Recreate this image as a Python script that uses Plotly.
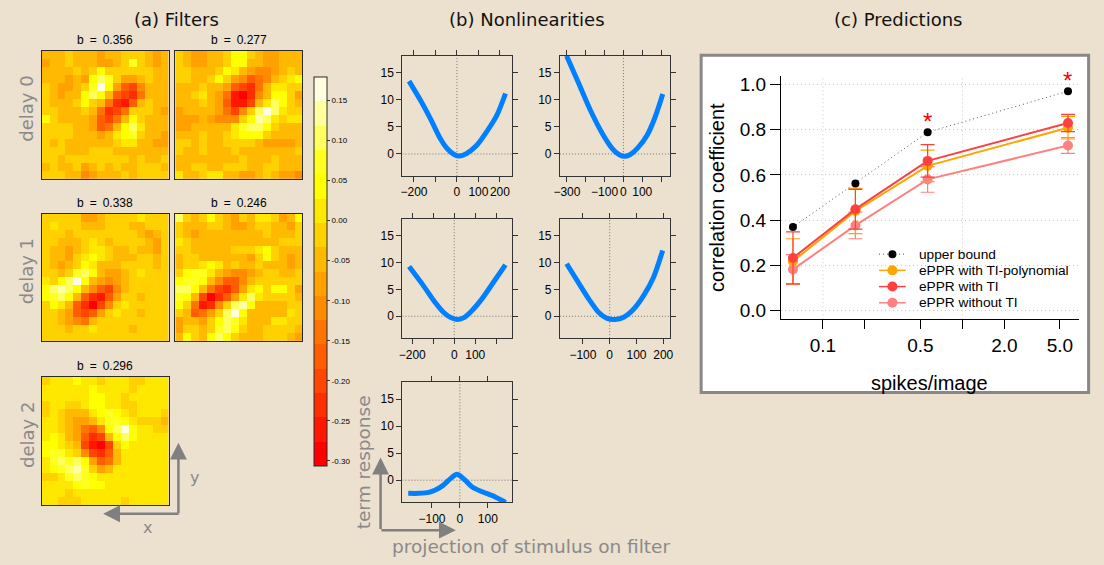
import math
import plotly.graph_objects as go

W, H = 1104, 565
BG = "#ECE0CE"
GREY_TXT = "#8a8a8a"
ARROW = "#808080"

# ---------------------------------------------------------------- filters
# 16x16 spatial filter weights, row 0 = top row of the image
filter_d0_a = [
    [-.04,-.04,-.04,-.01,-.04,-.04,-.04,-.08,-.04,-.04,-.01,-.01,-.01,-.04,-.08,-.04],
    [-.08,-.04,-.04,-.01,-.04,-.04,-.04,-.08,-.08,-.04,-.01,.08,-.01,-.04,-.08,-.04],
    [-.04,-.04,-.04,-.04,-.01,-.04,-.01,.05,-.01,-.01,-.01,-.01,-.01,-.01,-.04,-.04],
    [-.04,-.04,-.04,-.08,-.04,-.08,.05,.11,.08,-.01,-.08,-.08,-.04,-.01,-.04,-.04],
    [-.01,-.04,-.08,-.08,-.04,-.01,.08,.17,.05,-.08,-.17,-.20,-.11,-.04,-.04,-.04],
    [-.01,-.04,-.08,-.04,-.04,.05,.11,.05,-.04,-.17,-.20,-.23,-.14,-.04,-.04,-.04],
    [-.01,-.04,-.04,-.04,-.01,.05,-.01,-.04,-.14,-.23,-.26,-.17,-.04,-.01,-.04,-.04],
    [-.01,-.01,-.04,-.04,-.04,-.01,-.04,-.14,-.23,-.20,-.14,-.01,-.01,-.01,-.04,-.08],
    [.05,-.01,-.04,-.04,-.04,-.04,-.08,-.17,-.20,-.14,-.04,.05,-.01,-.04,-.04,-.04],
    [-.01,-.01,-.01,-.01,-.04,-.04,-.08,-.17,-.14,-.04,.05,.11,.02,-.04,-.04,-.04],
    [-.01,-.01,-.01,-.01,-.04,-.04,-.04,-.08,-.04,.02,.05,.08,-.01,-.04,-.04,-.08],
    [-.01,-.04,-.01,-.04,-.04,-.04,-.04,-.04,-.04,-.01,.02,.02,-.04,-.04,-.08,-.08],
    [-.01,-.01,-.01,-.04,-.04,-.04,-.01,-.01,-.01,-.04,-.04,-.04,-.04,-.04,-.04,-.04],
    [-.01,-.01,-.04,-.01,-.01,-.01,-.01,-.01,-.01,-.01,-.01,-.04,-.01,-.04,-.04,-.01],
    [-.04,-.01,-.04,-.04,-.01,-.08,-.04,-.01,-.04,-.01,-.04,-.04,-.01,-.01,-.01,-.04],
    [-.01,-.01,-.01,-.04,-.04,-.11,-.08,-.04,-.04,-.04,-.01,-.04,-.01,-.01,-.01,-.01],
]
filter_d0_b = [
    [-.01,-.04,-.08,-.08,-.04,-.04,-.01,.05,.05,-.01,-.04,-.08,-.08,-.04,-.04,-.04],
    [-.01,-.04,-.08,-.08,-.04,-.04,-.01,.05,.05,-.04,-.04,-.08,-.08,-.04,-.04,-.04],
    [-.01,-.01,-.04,-.04,-.04,-.01,.05,.02,-.04,-.08,-.11,-.11,-.08,-.04,-.01,-.04],
    [-.01,-.01,-.04,-.04,-.01,.05,-.01,-.08,-.11,-.17,-.14,-.11,-.04,-.01,.02,.05],
    [-.04,-.04,-.04,-.01,-.04,-.04,-.08,-.17,-.20,-.23,-.14,-.04,.02,.02,-.01,-.01],
    [-.04,-.04,-.01,.02,-.04,-.08,-.14,-.26,-.29,-.23,-.11,-.04,.05,.05,-.01,-.08],
    [-.04,-.04,-.04,-.01,-.04,-.08,-.17,-.26,-.26,-.20,-.04,.02,.11,.05,-.01,-.04],
    [-.08,-.04,-.04,-.04,-.04,-.08,-.14,-.20,-.11,-.01,.11,.17,.11,.02,-.01,-.01],
    [-.08,-.08,-.08,-.04,-.08,-.11,-.11,-.11,-.01,.05,.14,.11,.02,-.01,.02,.02],
    [-.08,-.08,-.04,-.04,-.04,-.04,-.04,.02,.08,.11,.11,.05,-.01,-.04,-.04,-.04],
    [-.04,-.04,-.04,-.01,-.04,-.04,-.01,.02,.05,.05,.05,-.01,-.04,-.04,-.04,-.04],
    [-.01,-.01,-.04,-.01,-.04,-.04,-.01,-.01,-.01,-.01,-.04,-.08,-.08,-.08,-.08,-.04],
    [-.01,-.04,-.04,-.01,-.04,-.04,-.04,-.01,-.04,-.04,-.04,-.04,-.04,-.04,-.04,-.01],
    [-.04,-.04,-.04,-.04,-.04,-.04,-.04,-.04,-.01,-.04,-.04,-.04,-.01,-.04,-.04,-.04],
    [-.04,-.04,-.01,-.01,-.04,-.04,-.01,-.01,-.01,-.04,-.04,-.01,-.01,-.04,-.04,-.04],
    [.02,-.04,-.04,-.01,.02,.02,-.04,-.04,-.08,-.08,-.04,-.01,-.04,-.08,-.08,-.11],
]
filter_d1_a = [
    [-.01,-.01,-.01,-.01,-.01,-.08,-.08,-.04,-.01,-.01,-.01,-.01,.02,-.01,-.01,-.01],
    [-.01,.02,-.01,-.01,-.01,-.04,-.04,-.04,-.01,-.01,-.01,-.04,-.04,-.01,-.01,-.01],
    [-.01,-.01,-.01,-.04,-.01,-.01,-.01,-.01,-.01,-.01,-.01,-.01,-.04,-.08,-.04,-.01],
    [-.01,-.01,-.04,-.04,-.04,-.01,.02,-.01,-.04,-.01,-.01,-.01,-.01,-.04,-.08,-.01],
    [-.01,-.04,-.04,-.08,-.04,-.01,.02,.02,-.01,-.04,-.04,-.01,-.04,-.04,-.08,-.01],
    [-.01,-.04,-.04,-.08,-.01,.02,.05,.02,-.01,-.04,-.04,-.04,-.01,-.01,-.04,-.01],
    [-.01,-.04,-.08,-.04,-.01,.05,.02,-.04,-.04,-.04,-.01,-.01,-.01,-.01,-.04,-.01],
    [-.01,-.01,-.04,-.01,.08,.11,.05,-.04,-.08,-.08,-.04,-.01,.02,-.01,-.01,-.01],
    [.02,-.01,.05,.11,.17,.05,-.04,-.08,-.11,-.08,-.04,-.01,-.01,-.01,-.01,-.01],
    [.05,.11,.14,.11,.05,-.04,-.11,-.17,-.20,-.11,-.04,-.01,-.01,-.01,-.01,-.01],
    [.05,.08,.11,.05,-.04,-.17,-.23,-.26,-.17,-.08,-.01,-.01,-.04,-.01,-.01,-.01],
    [-.01,.05,.02,-.04,-.17,-.23,-.29,-.20,-.11,-.01,.02,-.01,-.01,-.01,-.01,-.01],
    [-.01,-.01,-.04,-.08,-.17,-.20,-.17,-.08,-.01,.02,-.01,-.01,-.04,-.01,-.01,-.01],
    [-.01,-.01,-.04,-.08,-.11,-.14,-.04,-.01,-.01,-.01,-.01,-.01,-.01,-.01,-.01,-.01],
    [-.01,-.01,-.01,-.04,-.01,-.01,.02,-.01,-.01,-.01,-.01,-.04,-.01,-.01,-.01,-.01],
    [-.01,-.01,-.01,-.01,-.01,-.01,-.01,-.01,-.01,-.01,-.01,-.01,-.01,-.01,-.01,-.01],
]
filter_d1_b = [
    [.11,-.01,-.04,-.01,.05,-.01,-.04,-.08,-.01,-.04,.02,.02,-.01,-.08,-.04,.05],
    [-.01,-.04,-.04,-.04,-.01,-.01,-.04,-.08,-.08,-.04,-.01,-.01,-.04,-.04,-.08,-.01],
    [-.01,-.04,-.08,-.04,-.04,-.04,-.04,-.04,-.04,-.04,-.04,-.01,-.04,-.04,-.04,-.01],
    [.02,-.01,-.04,-.04,-.04,-.04,-.04,-.04,-.04,-.04,-.04,-.04,-.04,-.01,-.01,-.01],
    [-.01,-.01,-.04,-.04,-.04,-.04,-.04,-.01,-.01,-.01,.02,.05,-.01,-.04,-.04,-.04],
    [-.04,-.01,-.01,-.04,-.04,-.04,-.04,-.04,-.04,-.08,-.01,.05,-.01,-.04,-.08,-.04],
    [-.04,-.01,-.01,.02,.05,.02,-.04,-.01,-.04,-.04,-.01,-.04,-.04,-.04,-.08,-.04],
    [-.01,.05,.08,.08,.02,-.04,-.08,-.11,-.11,-.08,-.04,-.01,-.01,-.04,-.04,-.01],
    [.05,.08,.08,.05,-.04,-.11,-.17,-.17,-.11,-.04,-.01,-.01,-.01,-.01,-.01,-.01],
    [.11,.11,.05,-.04,-.14,-.20,-.23,-.17,-.08,.02,.05,-.01,.05,.05,-.01,-.08],
    [.08,.05,-.04,-.20,-.29,-.23,-.17,-.08,.02,.11,.02,-.01,-.01,-.01,-.01,-.04],
    [.05,-.01,-.14,-.26,-.23,-.11,-.01,.11,.14,.05,-.04,-.04,-.04,-.04,-.01,-.01],
    [-.01,-.04,-.17,-.14,-.08,-.01,.11,.17,.05,-.04,-.04,-.04,-.04,-.04,.02,-.01],
    [-.08,-.04,-.04,-.08,-.01,.05,.11,.08,.02,-.04,-.04,-.04,.02,.02,-.01,-.01],
    [-.08,-.01,-.01,-.04,-.01,.08,.11,.05,-.01,-.04,-.04,-.01,-.01,-.01,-.01,-.04],
    [-.04,.05,-.01,-.04,.05,.11,.05,-.01,-.04,-.04,-.04,-.01,-.01,-.01,-.04,-.08],
]
filter_d2_a = [
    [-.01,.02,.02,.02,.05,.02,.02,-.01,.02,.02,.02,-.01,-.01,.02,.02,.02],
    [.02,.02,.02,.02,.02,.02,.05,.02,.02,.02,.02,-.01,.02,.02,.02,.02],
    [.02,.02,.02,.02,.02,.02,.05,.05,.02,.02,-.01,.02,.02,.02,.02,.02],
    [-.01,.02,.02,-.01,-.01,.02,.05,.05,.02,.02,-.01,-.01,.02,.02,.02,.02],
    [-.01,.02,-.01,-.04,-.04,-.04,.02,.05,.08,.05,.02,-.01,.02,.02,.02,-.01],
    [.02,.02,-.01,-.04,-.08,-.08,-.04,.02,.08,.08,.05,.02,-.01,-.01,-.01,-.04],
    [.02,.02,-.01,-.04,-.08,-.14,-.17,-.11,.05,.11,.17,.05,.02,.02,-.01,-.01],
    [.02,.05,.02,-.04,-.08,-.17,-.23,-.20,-.04,.05,.11,.05,.02,.02,.02,.02],
    [.05,.05,.02,-.01,-.04,-.20,-.26,-.29,-.20,-.01,.05,.02,.02,.02,.02,.02],
    [.05,.08,.08,.02,-.01,-.11,-.20,-.23,-.17,-.04,.02,.02,.02,.02,.02,.02],
    [.02,.08,.11,.08,.11,.05,-.08,-.17,-.14,-.04,.02,.02,.02,.02,.02,.02],
    [.02,.05,.08,.11,.14,.08,-.01,-.08,-.04,.02,.02,.02,.02,.02,.02,.02],
    [-.01,-.01,.02,.08,.11,.08,.05,.02,.02,.02,.02,.02,.02,.02,.02,.02],
    [.02,.02,.02,.02,.05,.08,.05,.05,.02,.02,.02,.02,.02,.02,.02,.02],
    [.02,.02,.02,-.01,.02,.02,.02,.02,.02,.02,.02,.02,.02,.02,.02,.02],
    [.02,.02,-.01,-.01,-.01,.02,.02,.02,.02,.02,-.01,.02,.02,.02,.02,.02],
]
filter_b = [0.356, 0.277, 0.338, 0.246, 0.296]
delay_labels = ["delay 0", "delay 1", "delay 2"]

# colour key: 16 heat colours between the weight limits
heat_colors = ["#FF0000", "#FF1700", "#FF2E00", "#FF4600", "#FF5D00", "#FF7400",
               "#FF8B00", "#FFA200", "#FFB900", "#FFD100", "#FFE800", "#FFFF00",
               "#FFFF20", "#FFFF60", "#FFFF9F", "#FFFFDF"]
weight_min, weight_max = -0.306, 0.180
key_ticks = [0.15, 0.10, 0.05, 0.00, -0.05, -0.10, -0.15, -0.20, -0.25, -0.30]

# ---------------------------------------------------------------- nonlinearities
nl1_x = [-223, -169, -123, -77, -46, -15, 11, 46, 92, 138, 185, 226]
nl1_y = [13.5, 9.9, 6.5, 2.8, 1.0, -0.05, -0.4, 0.1, 1.6, 4.1, 7.1, 11.2]
nl2_x = [-302, -244, -174, -112, -59, -25, 2, 37, 81, 125, 168, 209]
nl2_y = [18.2, 13.6, 8.0, 3.8, 1.0, -0.1, -0.45, -0.1, 1.3, 3.4, 6.8, 11.1]
nl3_x = [-215, -152, -97, -50, -14, 13, 44, 83, 131, 186, 244]
nl3_y = [9.3, 6.0, 2.9, 0.7, -0.3, -0.6, -0.3, 1.0, 3.2, 6.3, 9.6]
nl4_x = [-161, -121, -78, -41, -10, 21, 52, 89, 126, 163, 198]
nl4_y = [9.8, 6.6, 3.2, 0.7, -0.4, -0.6, -0.2, 1.3, 3.8, 7.2, 12.3]
nl5_x = [-185, -146, -111, -88, -64, -40, -22, -11, 1, 19, 43, 78, 125, 164]
nl5_y = [-2.44, -2.44, -2.26, -1.83, -1.1, 0.0, 0.8, 1.1, 0.8, 0.0, -1.2, -2.1, -3.05, -4.1]
nl_xranges = [[-254, 258], [-337, 247], [-247, 277], [-186, 225], [-206, 188]]
nl_xticks = [[-200, -100, 0, 100, 200], [-300, -200, -100, 0, 100, 200],
             [-200, -100, 0, 100, 200], [-100, 0, 100, 200], [-100, 0, 100]]
nl_xticktext = [["\u2212200", "", "0", "100", "200"],
                ["\u2212300", "", "\u2212100", "0", "100", ""],
                ["\u2212200", "", "0", "100", ""],
                ["\u2212100", "0", "100", "200"],
                ["\u2212100", "0", "100"]]
nl_yrange = [-4.1, 18.2]
nl_yticks = [0, 5, 10, 15]

# ---------------------------------------------------------------- predictions
spikes_per_image = [0.061, 0.171, 0.563, 5.71]
upper_bound = [0.369, 0.562, 0.789, 0.971]
eppr_ti_poly = [0.217, 0.440, 0.640, 0.809]
eppr_ti = [0.232, 0.448, 0.662, 0.830]
eppr_no_ti = [0.181, 0.376, 0.580, 0.730]
err_ti_poly = [0.100, 0.100, 0.070, 0.050]
err_ti = [0.115, 0.088, 0.072, 0.038]
err_no_ti = [0.066, 0.059, 0.057, 0.035]
significant = [2, 3]  # indices marked with a star

# ---------------------------------------------------------------- helpers
def dom_x(a, b):
    return [a / W, b / W]


def dom_y(top, bottom):
    return [1 - bottom / H, 1 - top / H]


def px(x):
    return x / W


def py(y):
    return 1 - y / H


def sfx(i):
    return "" if i == 1 else str(i)


def label(x, y, text, size, color="black", family=None, angle=0, xanchor="center"):
    font = dict(size=size, color=color)
    if family:
        font["family"] = family
    return dict(x=px(x), y=py(y), xref="paper", yref="paper", text=text, showarrow=False,
                textangle=angle, xanchor=xanchor, yanchor="middle", font=font)


def arrow(x_head, y_head, dx_tail, dy_tail):
    return dict(x=px(x_head), y=py(y_head), xref="paper", yref="paper",
                ax=dx_tail, ay=dy_tail, text="", showarrow=True, arrowhead=2,
                arrowsize=1.35, arrowwidth=2.5, arrowcolor=ARROW)


fig = go.Figure()
layout = {}
shapes = []
annotations = []

# ---------------------------------------------------------------- (a) filter maps
filters = [filter_d0_a, filter_d0_b, filter_d1_a, filter_d1_b, filter_d2_a]
filter_boxes = [(36, 164, 50, 179), (171, 299, 50, 179),
                (36, 164, 214, 342), (171, 299, 214, 342),
                (36, 164, 378, 507)]
for k, (z, box) in enumerate(zip(filters, filter_boxes), start=1):
    s = sfx(k)
    fig.add_trace(go.Heatmap(z=z, coloraxis="coloraxis", xaxis="x" + s, yaxis="y" + s,
                             hoverinfo="skip", showlegend=False))
    frame = dict(showticklabels=False, ticks="", showgrid=False, zeroline=False,
                 showline=True, mirror=True, linecolor="#2a2a2a", linewidth=1)
    layout["xaxis" + s] = dict(domain=dom_x(box[0], box[1]), anchor="y" + s,
                               range=[-0.5, 15.5], **frame)
    layout["yaxis" + s] = dict(domain=dom_y(box[2], box[3]), anchor="x" + s,
                               range=[15.5, -0.5], **frame)
    annotations.append(label((box[0] + box[1]) / 2, box[2] - 11,
                             f"b\u2002=\u2002{filter_b[k - 1]:.3f}", 12))

for row, text in enumerate(delay_labels):
    top, bottom = filter_boxes[row * 2][2], filter_boxes[row * 2][3]
    annotations.append(label(21, (top + bottom) / 2 - 6, text, 18, GREY_TXT,
                             "DejaVu Sans", angle=-90))

stepped = []
n_col = len(heat_colors)
for i, c in enumerate(heat_colors):
    stepped.append([i / n_col, c])
    stepped.append([(i + 1) / n_col, c])

layout["coloraxis"] = dict(
    cmin=weight_min, cmax=weight_max, colorscale=stepped,
    colorbar=dict(x=px(311), xanchor="left", y=py(76), yanchor="top",
                  len=391 / H, lenmode="fraction", thickness=13, thicknessmode="pixels",
                  xpad=0, ypad=0, outlinewidth=1, outlinecolor="#2a2a2a",
                  tickvals=key_ticks, ticktext=[f"{t:.2f}" for t in key_ticks],
                  ticks="outside", ticklen=3, tickcolor="#333",
                  tickfont=dict(size=8, color="black"), bgcolor="rgba(0,0,0,0)"))

# spatial orientation arrows
annotations.append(arrow(174, 444, 0, 72))
annotations.append(arrow(98, 515.5, 77, 0))
annotations.append(label(143, 529, "x", 16, GREY_TXT, "DejaVu Sans"))
annotations.append(label(190, 479, "y", 16, GREY_TXT, "DejaVu Sans"))

# ---------------------------------------------------------------- (b) nonlinearities
nl_x = [nl1_x, nl2_x, nl3_x, nl4_x, nl5_x]
nl_y = [nl1_y, nl2_y, nl3_y, nl4_y, nl5_y]
nl_boxes = [(400, 511, 55, 176), (559, 670, 55, 176),
            (400, 511, 219, 339), (559, 670, 219, 339),
            (400, 511, 383, 504)]
for j in range(5):
    k = 6 + j
    s = sfx(k)
    box = nl_boxes[j]
    xr = nl_xranges[j]
    fig.add_trace(go.Scatter(x=nl_x[j], y=nl_y[j], mode="lines", xaxis="x" + s, yaxis="y" + s,
                             line=dict(color="#0080FF", width=5, shape="spline", smoothing=0.8),
                             hoverinfo="skip", showlegend=False))
    common = dict(showgrid=False, zeroline=False, showline=True, mirror="ticks",
                  linecolor="#333", linewidth=1, ticks="outside", ticklen=5,
                  tickcolor="#333", tickfont=dict(size=12, color="black"), tickangle=0)
    layout["xaxis" + s] = dict(domain=dom_x(box[0], box[1]), anchor="y" + s, range=xr,
                               tickvals=nl_xticks[j], ticktext=nl_xticktext[j], **common)
    layout["yaxis" + s] = dict(domain=dom_y(box[2], box[3]), anchor="x" + s, range=nl_yrange,
                               tickvals=nl_yticks, ticktext=[str(v) for v in nl_yticks], **common)
    ref = dict(color="#777", width=1, dash="1px,2px")
    shapes.append(dict(type="line", xref="x" + s, yref="y" + s, x0=0, x1=0,
                       y0=nl_yrange[0], y1=nl_yrange[1], layer="below", line=ref))
    shapes.append(dict(type="line", xref="x" + s, yref="y" + s, x0=xr[0], x1=xr[1],
                       y0=0, y1=0, layer="below", line=ref))

annotations.append(arrow(378, 459, 0, 73))
annotations.append(arrow(454, 532, -76, 0))
annotations.append(label(361, 464, "term response", 18.5, GREY_TXT, "DejaVu Sans", angle=-90))
annotations.append(label(530, 548, "projection of stimulus on filter", 18.5, GREY_TXT,
                         "DejaVu Sans"))

# ---------------------------------------------------------------- (c) predictions
shapes.append(dict(type="rect", xref="paper", yref="paper", x0=px(701.5), x1=px(1092.5),
                   y0=py(393.5), y1=py(54.5), fillcolor="white", layer="below",
                   line=dict(color="#888888", width=3)))

s = "11"
series = [
    ("ePPR without TI", eppr_no_ti, err_no_ti, "#FF8080"),
    ("ePPR with TI-polynomial", eppr_ti_poly, err_ti_poly, "#FFA500"),
    ("ePPR with TI", eppr_ti, err_ti, "#FF4040"),
]
for name, vals, errs, col in series:
    fig.add_trace(go.Scatter(
        x=spikes_per_image, y=vals, name=name, mode="lines+markers",
        xaxis="x" + s, yaxis="y" + s, showlegend=False,
        line=dict(color=col, width=2), marker=dict(color=col, size=10),
        error_y=dict(type="data", array=errs, color=col, thickness=1.2, width=7)))
fig.add_trace(go.Scatter(
    x=spikes_per_image, y=upper_bound, name="upper bound", mode="lines+markers",
    xaxis="x" + s, yaxis="y" + s, showlegend=False,
    line=dict(color="#555555", width=1, dash="1px,3px"), marker=dict(color="black", size=8)))

for i in significant:
    annotations.append(dict(x=math.log10(spikes_per_image[i]), y=upper_bound[i],
                            xref="x" + s, yref="y" + s, text="*", showarrow=False,
                            xanchor="center", yanchor="middle", yshift=11,
                            font=dict(size=24, color="#FF0000")))

layout["xaxis" + s] = dict(domain=dom_x(782, 1083), anchor="y" + s, type="log",
                           range=[math.log10(0.05), math.log10(6.87)],
                           tickvals=[0.1, 0.2, 0.5, 1, 2, 5],
                           ticktext=["0.1", "", "0.5", "", "2.0", "5.0"],
                           ticks="outside", ticklen=9, tickcolor="black",
                           showline=True, linecolor="black", linewidth=1,
                           showgrid=False, zeroline=False,
                           tickfont=dict(size=19, color="black"))
layout["yaxis" + s] = dict(domain=dom_y(75, 320), anchor="x" + s, range=[-0.04, 1.04],
                           tickvals=[0, 0.2, 0.4, 0.6, 0.8, 1.0],
                           ticktext=["0.0", "0.2", "0.4", "0.6", "0.8", "1.0"],
                           ticks="outside", ticklen=10, tickcolor="black",
                           showline=True, linecolor="black", linewidth=1,
                           showgrid=True, gridcolor="#c8c8c8", griddash="1px,3px", gridwidth=1,
                           zeroline=False, tickfont=dict(size=19, color="black"))
for gx in [0.1, 1.0]:
    shapes.append(dict(type="line", xref="x" + s, yref="y" + s + " domain", x0=gx, x1=gx,
                       y0=0, y1=1, layer="below",
                       line=dict(color="#c8c8c8", width=1, dash="1px,3px")))

annotations.append(label(718, 197.5, "correlation coefficient", 20, angle=-90))
annotations.append(label(932, 384, "spikes/image", 20))

# legend key, drawn on an overlay axis measured in figure pixels
legend_entries = [
    ("upper bound", "black", "#555555", "1px,3px", 8),
    ("ePPR with TI-polynomial", "#FFA500", "#FFA500", "solid", 10),
    ("ePPR with TI", "#FF4040", "#FF4040", "solid", 10),
    ("ePPR without TI", "#FF8080", "#FF8080", "solid", 10),
]
legend_rows = [254.5, 270.8, 287.1, 303.4]
layout["xaxis12"] = dict(domain=[0, 1], range=[0, W], anchor="y12", visible=False,
                         fixedrange=True)
layout["yaxis12"] = dict(domain=[0, 1], range=[H, 0], anchor="x12", visible=False,
                         fixedrange=True)
for (text, mcol, lcol, dash, msize), ry in zip(legend_entries, legend_rows):
    fig.add_trace(go.Scatter(x=[881, 908], y=[ry, ry], mode="lines", xaxis="x12", yaxis="y12",
                             line=dict(color=lcol, width=1.5 if dash == "solid" else 1, dash=dash),
                             hoverinfo="skip", showlegend=False))
    fig.add_trace(go.Scatter(x=[894.5], y=[ry], mode="markers", xaxis="x12", yaxis="y12",
                             marker=dict(color=mcol, size=msize), hoverinfo="skip",
                             showlegend=False))
    annotations.append(label(919, ry, text, 13.7, xanchor="left"))

# ---------------------------------------------------------------- panel titles
for text, cx in [("(a) Filters", 172), ("(b) Nonlinearities", 526), ("(c) Predictions", 900)]:
    annotations.append(label(cx, 19, text, 18, "#111", "DejaVu Sans"))

layout.update(dict(
    width=W, height=H, margin=dict(l=0, r=0, t=0, b=0),
    paper_bgcolor=BG, plot_bgcolor="rgba(0,0,0,0)",
    font=dict(family="Liberation Sans", color="black"),
    showlegend=False,
    shapes=shapes, annotations=annotations,
))
fig.update_layout(layout)
fig.write_html("out.html")
